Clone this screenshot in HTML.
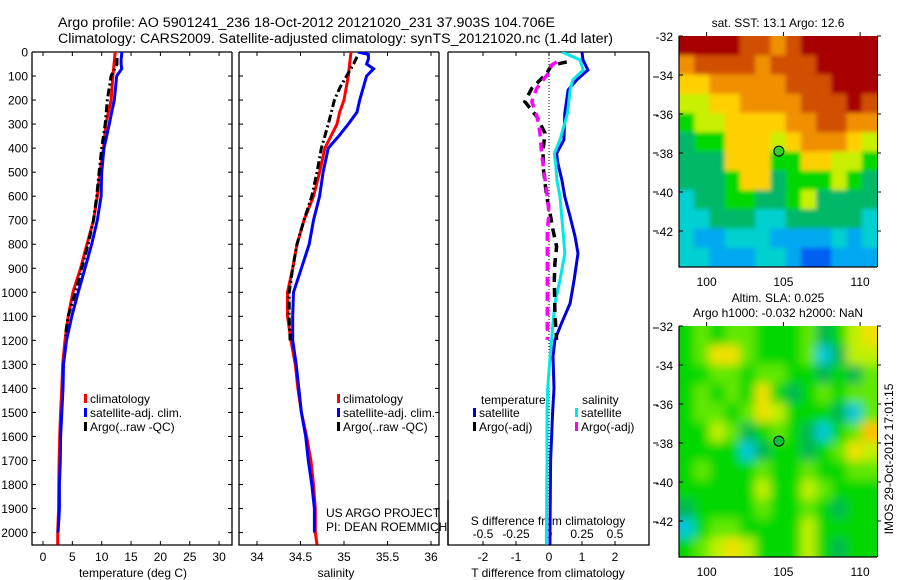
<!DOCTYPE html>
<html><head><meta charset="utf-8"><style>
body{margin:0;background:#fff;}
svg{display:block;font-family:"Liberation Sans",sans-serif;}
text{fill:#000;}
</style></head><body>
<svg id="fig" width="900" height="580" viewBox="0 0 900 580" xmlns="http://www.w3.org/2000/svg">
<defs>
<clipPath id="c1"><rect x="32" y="52" width="200" height="493"/></clipPath>
<clipPath id="c2"><rect x="239" y="52" width="200" height="493"/></clipPath>
<clipPath id="c3"><rect x="448" y="52" width="201" height="493"/></clipPath>
<clipPath id="cm1"><rect x="679" y="36" width="198" height="231"/></clipPath>
<clipPath id="cm2"><rect x="679" y="326" width="198" height="231"/></clipPath>
<filter id="b1" x="-20%" y="-20%" width="140%" height="140%"><feGaussianBlur stdDeviation="2"/></filter>
<filter id="b2" x="-20%" y="-20%" width="140%" height="140%"><feGaussianBlur stdDeviation="5"/></filter>
</defs>
<text x="58" y="27" font-size="13.5" textLength="497" lengthAdjust="spacingAndGlyphs">Argo profile: AO 5901241_236 18-Oct-2012 20121020_231 37.903S 104.706E</text>
<text x="58" y="43" font-size="13.5" textLength="555" lengthAdjust="spacingAndGlyphs">Climatology: CARS2009. Satellite-adjusted climatology: synTS_20121020.nc (1.4d later)</text>
<g id="layer"></g>
</svg>
<script>
// ---------- data ----------
const depthT = [0,100,200,300,400,500,600,700,800,900,1000,1100,1200,1300,1400,1500,1600,1700,1800,1900,2000,2050];
const tempClim = [12.3,11.9,11.6,10.7,10.3,9.7,9.25,8.6,7.5,6.4,5.1,4.3,3.75,3.35,3.2,3.0,2.85,2.75,2.7,2.65,2.5,2.5];
const depthTS = [0,10,30,50,70,100,200,250,300,400,500,600,700,800,900,1000,1100,1200,1300,1400,1500,1600,1700,1800,1900,1950,2000];
const tempSat = [13.4,13.4,13.3,13.3,13.4,12.55,12.15,11.7,11.3,10.4,10.0,9.9,9.25,8.3,7.15,6.0,4.9,4.0,3.5,3.4,3.2,3.0,2.95,2.8,2.8,2.7,2.55];
const depthArgo = [25,50,100,200,300,400,500,600,700,800,900,1000,1100,1180];
const tempArgo = [12.6,12.6,11.6,10.95,10.6,10.0,9.55,9.15,8.6,7.7,6.6,5.5,4.3,3.8];
const depthS = [0,100,200,250,300,400,500,600,700,800,900,1000,1100,1200,1300,1400,1500,1600,1700,1800,1900,2000,2050];
const salClim = [35.08,35.05,35.0,34.95,34.92,34.78,34.72,34.65,34.54,34.46,34.41,34.35,34.35,34.39,34.44,34.47,34.51,34.57,34.62,34.65,34.67,34.67,34.69];
const depthSS = [0,10,30,50,70,100,200,250,300,350,400,500,600,700,800,900,1000,1100,1200,1300,1400,1500,1600,1700,1800,1900,2000];
const salSat = [35.16,35.28,35.28,35.26,35.34,35.26,35.18,35.15,35.05,34.94,34.82,34.76,34.72,34.65,34.6,34.51,34.42,34.41,34.41,34.45,34.48,34.51,34.56,34.59,34.63,34.66,34.66];
const depthSA = [20,50,100,150,200,300,400,500,600,700,800,900,1000,1100,1200];
const salArgo = [35.15,35.11,35.03,34.95,34.89,34.82,34.74,34.69,34.63,34.54,34.46,34.41,34.37,34.37,34.38];
const depthDT = [0,33,75,116,158,255,366,422,463,533,602,685,769,838,949,1046,1129,1198,1268,1400,1500,1700,2000,2050];
const dTsat = [1.0,1.03,1.18,0.84,0.58,0.48,0.45,0.23,0.27,0.39,0.48,0.64,0.79,0.88,0.76,0.64,0.38,0.18,0.12,0.15,0.11,0.05,0.03,0.03];
const dSsat = [0.1,0.235,0.26,0.18,0.16,0.14,0.083,0.04,0.05,0.06,0.083,0.096,0.11,0.12,0.083,0.045,0.03,0.02,0.008,-0.01,-0.015,-0.015,-0.02,-0.02];
const depthDA = [41,55,89,151,207,269,338,408,477,602,671,741,810,879,949,1087,1198];
const dTargo = [0.54,0.08,-0.07,-0.52,-0.73,-0.37,-0.12,-0.18,-0.18,-0.07,0.03,0.12,0.23,0.18,0.16,0.18,0.23];
const dSargo = [0.058,0.02,-0.005,-0.093,-0.13,-0.09,-0.068,-0.058,-0.043,-0.013,0,-0.013,-0.013,-0.013,-0.013,-0.013,-0.013];
const depthTicks = [0,100,200,300,400,500,600,700,800,900,1000,1100,1200,1300,1400,1500,1600,1700,1800,1900,2000];
const tTicks = [0,5,10,15,20,25,30];
const sTicks = [34,34.5,35,35.5,36];
const sTickLabels = ["34","34.5","35","35.5","36"];
const dTTicks = [-2,-1,0,1,2];
const dSTicks = [-0.5,-0.25,0,0.25,0.5];
const dSTickLabels = ["-0.5","-0.25","0","0.25","0.5"];
const latTicks = [-32,-34,-36,-38,-40,-42];
const lonTicks = [100,105,110];
const argoLon = 104.706, argoLat = -37.903;
const sstGrid = [
[9,9,9,9,8,8,7,8,9,9,9,9,9],
[7,8,8,8,8,7,8,8,8,9,9,9,9],
[6,6,7,7,7,7,7,8,8,8,9,9,9],
[5,5,6,6,7,7,7,7,8,8,8,9,8],
[4,5,5,6,6,6,6,7,7,8,8,7,7],
[3,4,4,6,6,6,5,6,7,7,7,6,5],
[3,3,3,6,6,6,4,4,6,6,5,5,4],
[3,3,3,4,6,6,3,4,4,4,5,4,3],
[2,3,3,4,4,3,3,4,5,3,3,3,3],
[2,2,3,3,3,2,2,3,3,3,3,3,2],
[2,1,1,2,2,2,1,1,1,1,2,1,2],
[2,2,1,1,1,2,2,1,0,0,1,1,1]];
const slaGrid = [
[2,3,2,3,3,2,2,2,3,1,2,4,5],
[2,3,5,5,3,2,2,2,3,0,1,4,4],
[2,2,3,3,2,3,3,2,2,1,2,1,3],
[2,3,2,3,2,5,2,1,2,3,2,3,3],
[2,3,3,2,3,5,4,2,2,2,1,0,3],
[2,2,4,3,1,2,3,2,1,0,2,3,6],
[2,2,2,2,0,1,2,2,1,2,3,5,4],
[2,3,2,2,2,3,2,2,3,2,2,3,3],
[2,2,2,2,2,4,2,2,4,3,2,2,2],
[1,2,2,2,2,3,2,2,3,2,1,2,2],
[0,2,3,3,2,2,2,2,4,2,2,2,2],
[2,3,4,5,4,2,2,2,4,2,1,2,2]];
const sstPalette = ["#0060f0","#00a8f0","#00d0d0","#00b868","#00d800","#c8f000","#ffd000","#f09000","#d05000","#a80000"];
const slaPalette = ["#00c8d8","#00b850","#00d800","#60e800","#c0f000","#f0e000","#ffc000"];

// ---------- scales ----------
const NS="http://www.w3.org/2000/svg";
const layer=document.getElementById('layer');
const yD = d => 52 + d*0.2403;
const xT = t => 43 + t*5.87;
const xS = s => 257 + (s-34)*87;
const xDT = v => 549 + v*33;
const xDS = v => 549 + v*132;
const lonX = (lon) => 679 + (lon-98.2)*15.35;
const latY = (lat,y0) => y0 + (-32-lat)*19.5;
function mk(tag,attrs,parent){const e=document.createElementNS(NS,tag);for(const k in attrs)e.setAttribute(k,attrs[k]);(parent||layer).appendChild(e);return e;}
function txt(x,y,s,size,anchor,parent){const e=mk('text',{x:x,y:y,'font-size':size||12,'text-anchor':anchor||'start'},parent);e.textContent=s;return e;}
function line(xs,ys,vals,deps,color,w,dash,clip,name){
  const pts=vals.map((v,i)=>xs(v).toFixed(1)+','+ys(deps[i]).toFixed(1)).join(' ');
  const a={points:pts,fill:'none',stroke:color,'stroke-width':w,'clip-path':'url(#'+clip+')'};
  if(dash)a['stroke-dasharray']=dash;
  const e=mk('polyline',a);
  
  
  return e;
}
function frame(x0,x1,name){
  const g=mk('g',{});
  
  
  mk('rect',{x:x0,y:52,width:x1-x0,height:493,fill:'#fff',stroke:'none'},g);
  mk('polyline',{points:`${x0},52 ${x0},545 ${x1},545 ${x1},52`,fill:'none',stroke:'#000','stroke-width':1.3},g);
  mk('line',{x1:x0,y1:52,x2:x1,y2:52,stroke:'#000','stroke-width':1.3},g);
  return g;
}
frame(32,232,'temperature-panel');
frame(239,439,'salinity-panel');
frame(448,649,'difference-panel');
depthTicks.forEach(d=>{
  const y=yD(d);
  const lab=txt(28,y+4.5,String(d),12,'end');
  
  
  [[32,36],[228,232],[239,243],[435,439]].forEach(([a,b])=>mk('line',{x1:a,y1:y,x2:b,y2:y,stroke:'#000','stroke-width':1}));
});
[77,115,153,192,231,328,405,443,483,522].forEach(y=>mk('line',{x1:653,y1:y,x2:658,y2:y,stroke:'#000','stroke-width':1}));
tTicks.forEach(t=>{const x=xT(t);mk('line',{x1:x,y1:545,x2:x,y2:541,stroke:'#000'});mk('line',{x1:x,y1:52,x2:x,y2:56,stroke:'#000'});
  const l=txt(x,561,String(t),12,'middle');});
sTicks.forEach((s,i)=>{const x=xS(s);mk('line',{x1:x,y1:545,x2:x,y2:541,stroke:'#000'});mk('line',{x1:x,y1:52,x2:x,y2:56,stroke:'#000'});
  const l=txt(x,561,sTickLabels[i],12,'middle');});
dTTicks.forEach(t=>{const x=xDT(t);mk('line',{x1:x,y1:545,x2:x,y2:541,stroke:'#000'});mk('line',{x1:x,y1:52,x2:x,y2:56,stroke:'#000'});
  const l=txt(x,561,String(t),12,'middle');});
dSTicks.forEach((s,i)=>{const l=txt(xDS(s),538,dSTickLabels[i],12,'middle');});
let t;
t=txt(133,577,'temperature (deg C)',12,'middle');
t=txt(336,577,'salinity',12,'middle');
t=txt(548,577,'T difference from climatology',12,'middle');
t=txt(548,525,'S difference from climatology',12,'middle');
mk('line',{x1:549,y1:52,x2:549,y2:545,stroke:'#000','stroke-width':1,'stroke-dasharray':'1,2'});
line(xT,yD,tempClim,depthT,'#ff0000',3,null,'c1','temp-climatology-line');
line(xT,yD,tempSat,depthTS,'#0000ff',3,null,'c1','temp-satellite-line');
line(xT,yD,tempArgo,depthArgo,'#000',3,'8,3,2,3','c1','temp-argo-line');
line(xS,yD,salClim,depthS,'#ff0000',3,null,'c2','sal-climatology-line');
line(xS,yD,salSat,depthSS,'#0000ff',3,null,'c2','sal-satellite-line');
line(xS,yD,salArgo,depthSA,'#000',3,'8,3,2,3','c2','sal-argo-line');
line(xDT,yD,dTsat,depthDT,'#0000dd',3,null,'c3','tdiff-satellite-line');
line(xDS,yD,dSsat,depthDT,'#00e8e8',3,null,'c3','sdiff-satellite-line');
line(xDT,yD,dTargo,depthDA,'#000',3.5,'9,6','c3','tdiff-argo-line');
line(xDS,yD,dSargo,depthDA,'#ff00ff',3.5,'9,6','c3','sdiff-argo-line');
function legend(x,y,color,label,name){
  const g=mk('g',{});
  
  
  mk('rect',{x:x,y:y-9,width:3,height:9,fill:color},g);
  txt(x+6,y,label,12,'start',g);
}
legend(84,403,'#ff0000','climatology','legend-temp-climatology');
legend(84,417,'#0000ff','satellite-adj. clim.','legend-temp-satellite');
legend(84,431,'#000','Argo(..raw -QC)','legend-temp-argo');
legend(337,403,'#ff0000','climatology','legend-sal-climatology');
legend(337,417,'#0000ff','satellite-adj. clim.','legend-sal-satellite');
legend(337,431,'#000','Argo(..raw -QC)','legend-sal-argo');
t=txt(481,404,'temperature',12);
t=txt(582,404,'salinity',12);
legend(473,417,'#0000dd','satellite','legend-tdiff-satellite');
legend(473,431,'#000','Argo(-adj)','legend-tdiff-argo');
legend(575,417,'#00e8e8','satellite','legend-sdiff-satellite');
legend(575,431,'#ff00ff','Argo(-adj)','legend-sdiff-argo');
t=txt(326,517,'US ARGO PROJECT',12);
t=txt(326,531,'PI: DEAN ROEMMICH',12);
mk('line',{x1:448,y1:500,x2:448,y2:545,stroke:'#000','stroke-width':1.3});
// ---------- maps ----------
function map(grid,palette,y0,clip,name,markerFill,filt){
  const g=mk('g',{});
  
  
  const inner=mk('g',{'clip-path':'url(#'+clip+')'},g);
  const blur=mk('g',{filter:'url(#'+filt+')'},inner);
  const rows=grid.length, cols=grid[0].length;
  const cw=198/cols, ch=231/rows, pad=14;
  grid.forEach((row,r)=>row.forEach((v,c)=>{
    let x=679+c*cw, y=y0+r*ch, w=cw+0.6, h=ch+0.6;
    if(c===0){x-=pad;w+=pad;} if(c===cols-1){w+=pad;}
    if(r===0){y-=pad;h+=pad;} if(r===rows-1){h+=pad;}
    const cell=mk('rect',{x:x.toFixed(2),y:y.toFixed(2),width:w.toFixed(2),height:h.toFixed(2),fill:palette[v]},blur);
    
    
  }));
  mk('polyline',{points:`679,${y0} 679,${y0+231} 877,${y0+231}`,fill:'none',stroke:'#000','stroke-width':1.2},g);
  mk('line',{x1:877.5,y1:y0,x2:877.5,y2:y0+231,stroke:'#000','stroke-width':1},g);
  latTicks.forEach(lat=>{const y=latY(lat,y0);mk('line',{x1:679,y1:y,x2:683,y2:y,stroke:'#000'},g);mk('line',{x1:877,y1:y,x2:881,y2:y,stroke:'#000'},g);
    txt(673,y+5,String(lat),12,'end',g);});
  lonTicks.forEach(lon=>{const x=lonX(lon);mk('line',{x1:x,y1:y0,x2:x,y2:y0-4,stroke:'#000'},g);
    txt(x,y0+250,String(lon),12,'middle',g);});
  const m=mk('circle',{cx:lonX(argoLon),cy:latY(argoLat,y0),r:5,fill:markerFill,stroke:'#000','stroke-width':1},g);
  
  
}
map(sstGrid,sstPalette,36,'cm1','sst-map','#30d030','b1');
map(slaGrid,slaPalette,326,'cm2','sla-map','#00c040','b2');
t=txt(778,27,'sat. SST: 13.1  Argo: 12.6',12,'middle');
t=txt(778,302,'Altim. SLA: 0.025',12,'middle');
t=txt(778,317,'Argo h1000: -0.032 h2000: NaN',12,'middle');
t=txt(0,0,'IMOS 29-Oct-2012 17:01:15',12,'middle');t.setAttribute('transform','translate(893,459) rotate(-90)');


</script>
</body></html>
